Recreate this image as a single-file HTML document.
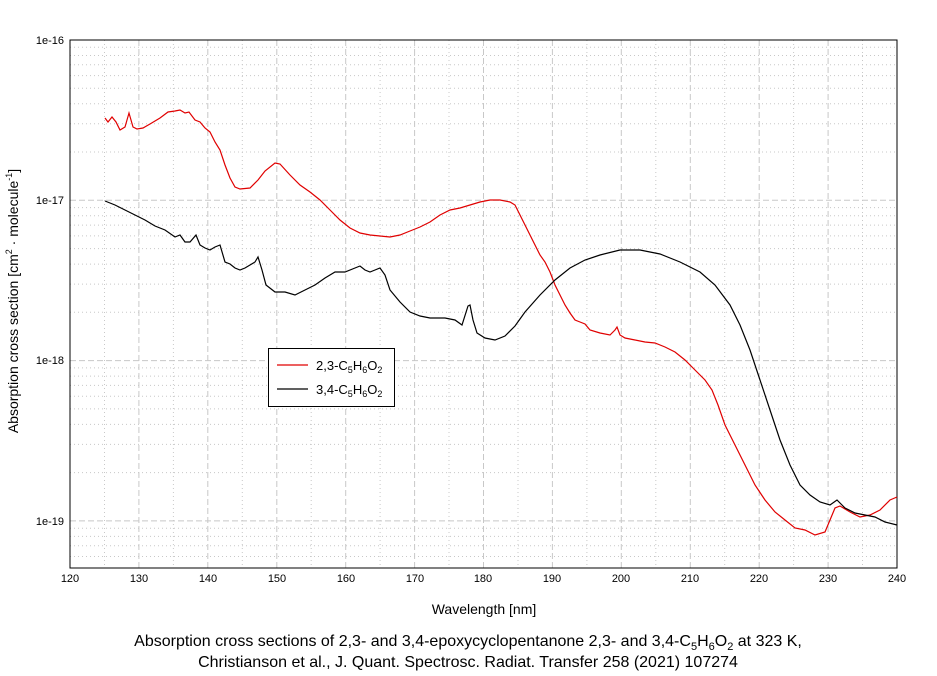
<!DOCTYPE html>
<html><head><style>
body{margin:0;background:#fff;}
svg{display:block;font-family:"Liberation Sans",Arial,sans-serif;}
</style></head><body>
<svg width="937" height="676" viewBox="0 0 937 676" xmlns="http://www.w3.org/2000/svg">
<rect width="937" height="676" fill="#fff"/>
<g stroke="#c8c8c8" stroke-width="1" fill="none">
<path stroke-dasharray="1,3" d="M104.5 40V568M173.4 40V568M242.3 40V568M311.2 40V568M380.1 40V568M449 40V568M518 40V568M586.9 40V568M655.8 40V568M724.7 40V568M793.6 40V568M862.5 40V568
M70 47.3H897M70 55.5H897M70 64.8H897M70 75.6H897M70 88.3H897M70 103.8H897M70 123.8H897M70 152H897
M70 207.6H897M70 215.8H897M70 225.1H897M70 235.9H897M70 248.6H897M70 264.1H897M70 284.1H897M70 312.3H897
M70 367.9H897M70 376.1H897M70 385.4H897M70 396.2H897M70 408.9H897M70 424.4H897M70 444.4H897M70 472.6H897
M70 528.2H897M70 536.4H897M70 545.7H897M70 556.5H897"/>
<path stroke-dasharray="6,3" d="M138.9 40V568M207.8 40V568M276.8 40V568M345.7 40V568M414.6 40V568M483.5 40V568M552.4 40V568M621.3 40V568M690.3 40V568M759.2 40V568M828.1 40V568
M70 200.3H897M70 360.6H897M70 520.9H897"/>
</g>
<rect x="70" y="40" width="827" height="528" fill="none" stroke="#000" stroke-width="1"/>
<g font-size="11" fill="#000" text-anchor="middle">
<text x="70" y="582">120</text><text x="139" y="582">130</text><text x="208" y="582">140</text><text x="277" y="582">150</text><text x="346" y="582">160</text><text x="415" y="582">170</text><text x="483" y="582">180</text><text x="552" y="582">190</text><text x="621" y="582">200</text><text x="690" y="582">210</text><text x="759" y="582">220</text><text x="828" y="582">230</text><text x="897" y="582">240</text>
</g>
<g font-size="11" fill="#000" text-anchor="end">
<text x="64" y="44">1e-16</text><text x="64" y="204">1e-17</text><text x="64" y="364">1e-18</text><text x="64" y="525">1e-19</text>
</g>
<text x="484" y="614" font-size="14" text-anchor="middle">Wavelength [nm]</text>
<text transform="translate(18,301) rotate(-90)" font-size="14" text-anchor="middle">Absorption cross section [cm<tspan font-size="9" dy="-6">2</tspan><tspan dy="6"> · molecule</tspan><tspan font-size="9" dy="-6">-1</tspan><tspan dy="6">]</tspan></text>
<text x="468" y="646" font-size="16" text-anchor="middle">Absorption cross sections of 2,3- and 3,4-epoxycyclopentanone 2,3- and 3,4-C<tspan font-size="11" dy="4">5</tspan><tspan dy="-4">H</tspan><tspan font-size="11" dy="4">6</tspan><tspan dy="-4">O</tspan><tspan font-size="11" dy="4">2</tspan><tspan dy="-4"> at 323 K,</tspan></text>
<text x="468" y="667" font-size="16" text-anchor="middle">Christianson et al., J. Quant. Spectrosc. Radiat. Transfer 258 (2021) 107274</text>
<polyline fill="none" stroke="#e00000" stroke-width="1.2" points="105,118 108,122 112,117 116,122 120,130 125,127 129,113 133,127 137,129 143,128 150,124 160,118 168,112 175,111 180,110 185,113 189,112 195,120 200,122 205,128 210,132 215,142 220,150 225,165 230,178 235,187 240,189 250,188 258,180 265,171 275,163 280,164 290,175 300,185 310,192 320,200 330,210 340,220 350,228 360,233 370,235 380,236 390,237 400,235 410,231 420,227 430,222 440,215 450,210 460,208 470,205 480,202 490,200 500,200 510,202 515,205 520,215 525,225 530,235 535,245 540,255 545,262 550,272 555,285 560,295 565,305 570,313 575,320 580,322 585,324 590,330 600,333 610,335 615,330 617,327 620,335 625,338 635,340 645,342 655,343 665,347 675,352 685,360 695,370 705,380 712,390 718,405 725,425 735,445 745,465 755,485 765,500 775,512 785,520 795,528 805,530 815,535 825,532 830,520 835,508 840,506 850,512 860,517 870,515 880,510 890,500 897,497"/>
<polyline fill="none" stroke="#000" stroke-width="1.2" points="105,201 115,205 125,210 135,215 145,220 155,226 165,230 175,237 180,235 185,242 190,242 196,235 200,245 205,248 210,250 215,247 220,245 225,262 230,264 235,268 240,270 245,268 250,265 255,262 258,257 262,270 266,285 275,292 285,292 295,295 305,290 315,285 325,278 335,272 345,272 355,268 360,266 365,270 370,272 375,270 380,268 385,275 390,290 400,302 410,312 420,316 430,318 445,318 455,320 462,325 468,306 470,305 473,320 477,333 485,338 495,340 505,336 515,326 525,312 540,295 555,280 570,268 585,260 600,255 620,250 640,250 660,254 680,262 700,272 715,285 730,305 740,325 750,350 760,380 770,410 780,440 790,465 800,485 810,495 820,502 830,505 837,500 845,508 855,513 865,515 875,517 885,522 897,525"/>
<rect x="268.5" y="348.5" width="126" height="58" fill="#fff" stroke="#000" stroke-width="1"/>
<line x1="277" y1="365" x2="308" y2="365" stroke="#e00000" stroke-width="1.2"/>
<line x1="277" y1="389" x2="308" y2="389" stroke="#000" stroke-width="1.2"/>
<text x="316" y="370" font-size="13">2,3-C<tspan font-size="9" dy="3">5</tspan><tspan dy="-3">H</tspan><tspan font-size="9" dy="3">6</tspan><tspan dy="-3">O</tspan><tspan font-size="9" dy="3">2</tspan></text>
<text x="316" y="394" font-size="13">3,4-C<tspan font-size="9" dy="3">5</tspan><tspan dy="-3">H</tspan><tspan font-size="9" dy="3">6</tspan><tspan dy="-3">O</tspan><tspan font-size="9" dy="3">2</tspan></text>
</svg>
</body></html>
